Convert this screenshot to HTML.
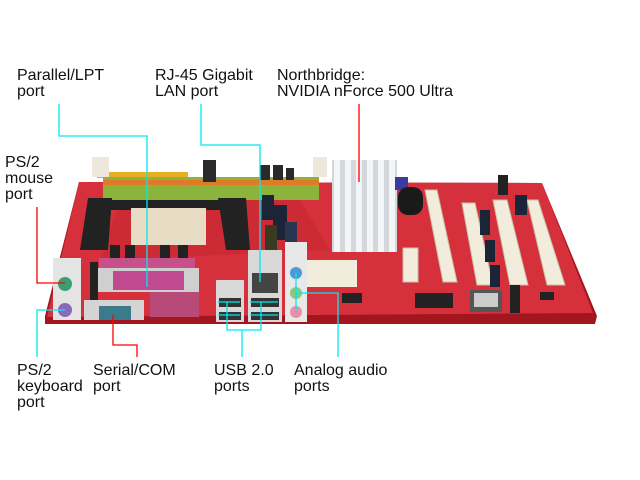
<!DOCTYPE html>
<html><head><meta charset="utf-8"><style>
html,body{margin:0;padding:0;background:#fff;}
svg{display:block}
text{font-family:"Liberation Sans",Arial,sans-serif;font-size:16px;fill:#111}
</style></head><body>
<svg width="640" height="480" viewBox="0 0 640 480" xmlns="http://www.w3.org/2000/svg">
<rect width="640" height="480" fill="#fff"/>
<!-- board -->
<polygon points="79,182 542,183 597,316 595,324 45,324 45,316" fill="#a3161f"/>
<polygon points="79,182 542,183 593,313 47,317" fill="#d6303c"/>
<polygon points="120,200 300,200 330,250 100,260" fill="#c22630" opacity="0.5"/>
<!-- DIMM -->
<rect x="97" y="172" width="91" height="6" fill="#e8b020"/>
<rect x="103" y="177" width="216" height="23" fill="#8cb43c"/>
<rect x="103" y="180" width="216" height="5" fill="#e07a28"/>
<rect x="92" y="157" width="17" height="20" fill="#eee8dc"/>
<rect x="313" y="157" width="14" height="20" fill="#eee8dc"/>
<!-- caps top -->
<rect x="203" y="160" width="13" height="22" fill="#2a2a2a"/>
<rect x="260" y="165" width="10" height="15" fill="#2a2a2a"/>
<rect x="273" y="165" width="10" height="15" fill="#2a2a2a"/>
<rect x="286" y="168" width="8" height="12" fill="#2a2a2a"/>
<!-- CPU retention -->
<polygon points="88,198 112,198 108,250 80,250" fill="#222"/>
<polygon points="218,198 246,198 250,250 226,250" fill="#222"/>
<rect x="110" y="200" width="112" height="10" fill="#222"/>
<rect x="131" y="208" width="75" height="37" fill="#e8dcc4"/>
<rect x="110" y="245" width="10" height="15" fill="#222"/>
<rect x="125" y="245" width="10" height="15" fill="#222"/>
<rect x="160" y="245" width="10" height="15" fill="#222"/>
<rect x="178" y="245" width="10" height="15" fill="#222"/>
<rect x="262" y="195" width="12" height="25" fill="#1c2538"/>
<rect x="273" y="205" width="14" height="35" fill="#1c2538"/>
<rect x="285" y="222" width="12" height="25" fill="#2a3550"/>
<rect x="265" y="225" width="12" height="28" fill="#3a3a20"/>
<!-- heatsink -->
<rect x="332" y="160" width="65" height="92" fill="#d4d7dc"/>
<g fill="#f4f5f7"><rect x="334" y="160" width="6" height="92"/><rect x="345" y="160" width="6" height="92"/><rect x="356" y="160" width="6" height="92"/><rect x="367" y="160" width="6" height="92"/><rect x="378" y="160" width="6" height="92"/><rect x="389" y="160" width="6" height="92"/></g>
<rect x="395" y="177" width="13" height="13" fill="#3a3aa0"/>
<rect x="398" y="187" width="25" height="28" rx="10" fill="#1a1a1a"/>
<!-- PCI slots -->
<g fill="#f2ecdc" stroke="#c9bfa6" stroke-width="1">
<polygon points="425,190 437,190 457,282 443,282"/>
<polygon points="462,203 475,203 493,285 477,285"/>
<polygon points="493,200 507,200 528,285 510,285"/>
<polygon points="527,200 538,200 565,285 547,285"/>
<rect x="403" y="248" width="15" height="34"/>
</g>
<rect x="480" y="210" width="10" height="25" fill="#1c2538"/>
<rect x="485" y="240" width="10" height="22" fill="#1c2538"/>
<rect x="490" y="265" width="10" height="22" fill="#1c2538"/>
<rect x="515" y="195" width="12" height="20" fill="#1c2538"/>
<rect x="498" y="175" width="10" height="20" fill="#222"/>
<!-- chips -->
<rect x="415" y="293" width="38" height="15" fill="#222"/>
<rect x="470" y="290" width="32" height="22" fill="#555"/>
<rect x="474" y="293" width="24" height="14" fill="#ccc"/>
<rect x="342" y="293" width="20" height="10" fill="#222"/>
<rect x="510" y="285" width="10" height="28" fill="#222"/>
<rect x="540" y="292" width="14" height="8" fill="#222"/>
<!-- ATX -->
<rect x="307" y="260" width="50" height="27" fill="#f2ecdc"/>
<!-- PS/2 -->
<rect x="53" y="258" width="28" height="62" fill="#e4e4e4"/>
<circle cx="65" cy="284" r="7" fill="#3aa070"/>
<circle cx="65" cy="310" r="7" fill="#8a6ab8"/>
<!-- parallel -->
<rect x="99" y="258" width="96" height="10" fill="#c8508a"/>
<rect x="98" y="268" width="101" height="24" fill="#cfcfcf"/>
<rect x="113" y="271" width="71" height="19" fill="#c04a90"/>
<rect x="150" y="292" width="49" height="25" fill="#b84a7a"/>
<rect x="90" y="262" width="8" height="40" fill="#222"/>
<!-- serial -->
<rect x="84" y="300" width="60" height="20" fill="#d4d4d4"/>
<rect x="99" y="306" width="32" height="14" fill="#3a7a8a"/>
<!-- USB / LAN -->
<rect x="216" y="280" width="28" height="42" fill="#d8d8d8"/>
<rect x="219" y="298" width="22" height="9" fill="#333"/>
<rect x="219" y="312" width="22" height="8" fill="#333"/>
<rect x="248" y="250" width="34" height="72" fill="#d8d8d8"/>
<rect x="252" y="273" width="26" height="20" fill="#444"/>
<rect x="251" y="298" width="28" height="9" fill="#333"/>
<rect x="251" y="312" width="28" height="8" fill="#333"/>
<!-- audio -->
<rect x="285" y="242" width="22" height="80" fill="#e8e8e8"/>
<circle cx="296" cy="273" r="6" fill="#4a9ad8"/>
<circle cx="296" cy="293" r="6" fill="#8ac880"/>
<circle cx="296" cy="312" r="6" fill="#e890a8"/>
<!-- leader lines -->
<g fill="none" stroke-width="1.3">
<polyline stroke="#00e8f0" points="59,104 59,136 147,136 147,287"/>
<polyline stroke="#00e8f0" points="201,104 201,145 260,145 260,282"/>
<polyline stroke="#ff0000" points="359,104 359,182"/>
<polyline stroke="#ff0000" points="37,207 37,283 65,283"/>
<polyline stroke="#00e8f0" points="65,310 37,310 37,357"/>
<polyline stroke="#ff0000" points="113,315 113,345 137,345 137,357"/>
<polyline stroke="#00e8f0" points="218,302 240,302"/>
<polyline stroke="#00e8f0" points="218,315 240,315"/>
<polyline stroke="#00e8f0" points="250,302 278,302"/>
<polyline stroke="#00e8f0" points="250,315 278,315"/>
<polyline stroke="#00e8f0" points="227,302 227,330 261,330 261,302"/>
<polyline stroke="#00e8f0" points="242,330 242,357"/>
<polyline stroke="#00e8f0" points="296,273 296,312"/>
<polyline stroke="#00e8f0" points="296,293 338,293 338,357"/>
</g>
<!-- labels -->
<text x="17" y="80">Parallel/LPT</text><text x="17" y="96">port</text>
<text x="155" y="80">RJ-45 Gigabit</text><text x="155" y="96">LAN port</text>
<text x="277" y="80">Northbridge:</text><text x="277" y="96">NVIDIA nForce 500 Ultra</text>
<text x="5" y="167">PS/2</text><text x="5" y="183">mouse</text><text x="5" y="199">port</text>
<text x="17" y="375">PS/2</text><text x="17" y="391">keyboard</text><text x="17" y="407">port</text>
<text x="93" y="375">Serial/COM</text><text x="93" y="391">port</text>
<text x="214" y="375">USB 2.0</text><text x="214" y="391">ports</text>
<text x="294" y="375">Analog audio</text><text x="294" y="391">ports</text>
</svg>
</body></html>
